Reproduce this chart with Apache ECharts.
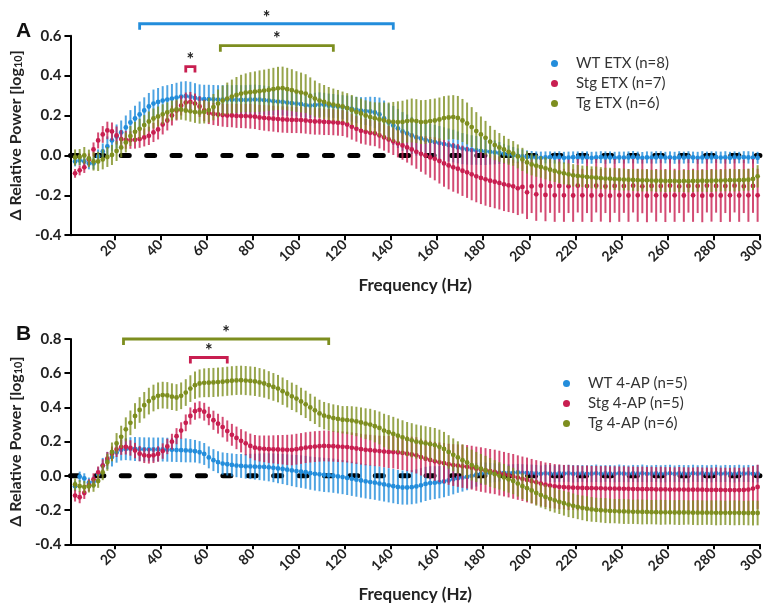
<!DOCTYPE html>
<html>
<head>
<meta charset="utf-8">
<script src="https://cdn.jsdelivr.net/npm/echarts@6/dist/echarts.min.js"></script>
<style>
html,body{margin:0;padding:0;background:#fff;}
#chart{width:767px;height:610px;}
</style>
</head>
<body>
<div id="chart"></div>
<script>
// Frequency bins (Hz)
const freq = [
  3,5,7,9,11,13,15,17,19,21,
  23,25,27,29,31,33,35,37,39,41,
  43,45,47,49,51,53,55,57,59,61,
  63,65,67,69,71,73,75,77,79,81,
  83,85,87,89,91,93,95,97,99,101,
  103,105,107,109,111,113,115,117,119,121,
  123,125,127,129,131,133,135,137,139,141,
  143,145,147,149,151,153,155,157,159,161,
  163,165,167,169,171,173,175,177,179,181,
  183,185,187,189,191,193,195,197,199,201,
  203,205,207,209,211,213,215,217,219,221,
  223,225,227,229,231,233,235,237,239,241,
  243,245,247,249,251,253,255,257,259,261,
  263,265,267,269,271,273,275,277,279,281,
  283,285,287,289,291,293,295,297,299
];
const xTicks = [20,40,60,80,100,120,140,160,180,200,220,240,260,280,300];

// ---- Panel A: ETX ----
const wtEtxMean = [
  -0.03,-0.025,-0.03,-0.04,-0.04,-0.005,0.02,0.045,0.075,0.095,
  0.115,0.14,0.165,0.185,0.205,0.225,0.245,0.26,0.268,0.275,
  0.28,0.285,0.29,0.295,0.297,0.294,0.288,0.283,0.282,0.282,
  0.281,0.28,0.28,0.28,0.279,0.279,0.278,0.278,0.279,0.28,
  0.279,0.277,0.275,0.272,0.27,0.268,0.265,0.262,0.26,0.257,
  0.252,0.25,0.252,0.255,0.254,0.25,0.248,0.245,0.242,0.238,
  0.233,0.228,0.224,0.222,0.22,0.215,0.205,0.185,0.165,0.15,
  0.135,0.12,0.11,0.1,0.09,0.085,0.078,0.072,0.067,0.062,
  0.057,0.052,0.047,0.04,0.034,0.03,0.027,0.025,0.022,0.02,
  0.018,0.015,0.012,0.008,0.005,0.002,-0.002,-0.005,-0.008,-0.01,
  -0.01,-0.012,-0.01,-0.009,-0.011,-0.01,-0.012,-0.011,-0.009,-0.01,
  -0.011,-0.01,-0.012,-0.01,-0.009,-0.011,-0.01,-0.012,-0.01,-0.011,
  -0.01,-0.009,-0.011,-0.012,-0.01,-0.011,-0.01,-0.009,-0.011,-0.01,
  -0.012,-0.01,-0.011,-0.009,-0.01,-0.012,-0.01,-0.011,-0.01,-0.009,
  -0.011,-0.01,-0.012,-0.01,-0.011,-0.009,-0.01,-0.011,-0.012
];
const wtEtxSem = [
  0.025,0.025,0.03,0.03,0.03,0.035,0.04,0.05,0.055,0.06,
  0.06,0.06,0.062,0.064,0.065,0.066,0.068,0.07,0.07,0.072,
  0.072,0.073,0.074,0.075,0.075,0.075,0.074,0.073,0.072,0.072,
  0.072,0.072,0.072,0.073,0.073,0.074,0.074,0.074,0.075,0.075,
  0.074,0.073,0.072,0.071,0.07,0.068,0.067,0.066,0.065,0.064,
  0.063,0.062,0.062,0.061,0.06,0.06,0.06,0.06,0.06,0.062,
  0.064,0.066,0.068,0.07,0.074,0.078,0.085,0.09,0.095,0.098,
  0.098,0.097,0.095,0.093,0.091,0.09,0.088,0.087,0.086,0.085,
  0.084,0.083,0.082,0.08,0.078,0.076,0.074,0.072,0.07,0.068,
  0.064,0.06,0.055,0.05,0.045,0.04,0.037,0.035,0.033,0.032,
  0.03,0.031,0.03,0.029,0.03,0.031,0.03,0.03,0.029,0.03,
  0.031,0.03,0.03,0.029,0.03,0.031,0.03,0.03,0.029,0.03,
  0.03,0.031,0.03,0.029,0.03,0.03,0.031,0.03,0.029,0.03,
  0.03,0.031,0.03,0.03,0.029,0.03,0.031,0.03,0.03,0.029,
  0.03,0.031,0.03,0.03,0.029,0.03,0.031,0.03,0.03
];
const stgEtxMean = [
  -0.09,-0.075,-0.06,-0.02,0.03,0.075,0.105,0.125,0.12,0.1,
  0.082,0.078,0.077,0.078,0.082,0.09,0.098,0.115,0.13,0.155,
  0.175,0.2,0.225,0.25,0.265,0.268,0.26,0.245,0.225,0.212,
  0.208,0.205,0.202,0.2,0.2,0.198,0.197,0.197,0.196,0.194,
  0.19,0.188,0.186,0.184,0.182,0.18,0.179,0.178,0.178,0.177,
  0.175,0.172,0.17,0.17,0.168,0.167,0.166,0.164,0.162,0.155,
  0.143,0.133,0.123,0.118,0.113,0.11,0.1,0.09,0.08,0.07,
  0.06,0.05,0.04,0.03,0.018,0.008,0,-0.01,-0.017,-0.028,
  -0.04,-0.05,-0.06,-0.067,-0.077,-0.085,-0.095,-0.105,-0.113,-0.12,
  -0.127,-0.132,-0.138,-0.145,-0.15,-0.155,-0.165,-0.158,-0.185,-0.155,
  -0.195,-0.152,-0.198,-0.154,-0.2,-0.153,-0.2,-0.155,-0.201,-0.152,
  -0.2,-0.154,-0.201,-0.152,-0.2,-0.155,-0.202,-0.153,-0.2,-0.154,
  -0.201,-0.152,-0.2,-0.155,-0.202,-0.153,-0.2,-0.154,-0.201,-0.152,
  -0.2,-0.155,-0.201,-0.153,-0.2,-0.154,-0.202,-0.152,-0.2,-0.153,
  -0.201,-0.154,-0.2,-0.152,-0.201,-0.155,-0.2,-0.153,-0.2
];
const stgEtxSem = [
  0.022,0.025,0.028,0.03,0.035,0.04,0.042,0.044,0.045,0.045,
  0.045,0.045,0.044,0.044,0.044,0.045,0.046,0.048,0.05,0.05,
  0.05,0.05,0.05,0.05,0.05,0.05,0.05,0.052,0.054,0.055,
  0.056,0.057,0.058,0.058,0.059,0.06,0.06,0.061,0.062,0.062,
  0.063,0.064,0.065,0.065,0.066,0.066,0.066,0.066,0.066,0.066,
  0.066,0.066,0.066,0.066,0.066,0.065,0.065,0.065,0.065,0.065,
  0.064,0.064,0.064,0.064,0.064,0.064,0.065,0.066,0.067,0.068,
  0.07,0.072,0.076,0.08,0.085,0.09,0.096,0.102,0.108,0.113,
  0.117,0.12,0.122,0.124,0.126,0.128,0.13,0.13,0.131,0.132,
  0.132,0.133,0.133,0.134,0.134,0.134,0.134,0.134,0.134,0.134,
  0.133,0.134,0.132,0.134,0.133,0.135,0.133,0.134,0.132,0.134,
  0.133,0.135,0.133,0.134,0.132,0.134,0.133,0.135,0.133,0.134,
  0.132,0.134,0.133,0.135,0.133,0.134,0.132,0.134,0.133,0.135,
  0.133,0.134,0.132,0.134,0.133,0.135,0.133,0.134,0.132,0.134,
  0.133,0.135,0.133,0.134,0.132,0.134,0.133,0.135,0.133
];
const tgEtxMean = [
  -0.01,-0.008,0,-0.015,-0.03,-0.03,-0.02,-0.008,0.002,0.022,
  0.04,0.065,0.097,0.118,0.133,0.152,0.17,0.185,0.195,0.206,
  0.216,0.225,0.23,0.229,0.225,0.221,0.217,0.215,0.218,0.227,
  0.242,0.26,0.275,0.285,0.295,0.303,0.31,0.314,0.317,0.319,
  0.322,0.325,0.328,0.332,0.336,0.337,0.332,0.327,0.32,0.315,
  0.31,0.297,0.285,0.275,0.268,0.26,0.255,0.25,0.245,0.237,
  0.228,0.218,0.21,0.2,0.192,0.186,0.18,0.175,0.17,0.168,
  0.167,0.168,0.172,0.175,0.172,0.167,0.168,0.172,0.175,0.18,
  0.187,0.19,0.192,0.188,0.175,0.16,0.142,0.122,0.105,0.088,
  0.068,0.052,0.04,0.03,0.018,0.01,-0.005,-0.02,-0.035,-0.045,
  -0.052,-0.058,-0.065,-0.072,-0.078,-0.085,-0.09,-0.095,-0.1,-0.103,
  -0.105,-0.108,-0.11,-0.112,-0.114,-0.116,-0.117,-0.119,-0.12,-0.121,
  -0.122,-0.123,-0.124,-0.125,-0.125,-0.126,-0.127,-0.127,-0.128,-0.128,
  -0.128,-0.129,-0.128,-0.129,-0.128,-0.128,-0.127,-0.128,-0.127,-0.126,
  -0.126,-0.125,-0.124,-0.125,-0.124,-0.123,-0.122,-0.118,-0.105
];
const tgEtxSem = [
  0.04,0.04,0.042,0.044,0.046,0.048,0.05,0.05,0.05,0.05,
  0.05,0.05,0.05,0.05,0.05,0.05,0.05,0.05,0.05,0.05,
  0.05,0.05,0.05,0.05,0.05,0.052,0.054,0.056,0.058,0.062,
  0.066,0.07,0.075,0.08,0.085,0.09,0.094,0.097,0.1,0.102,
  0.104,0.105,0.106,0.107,0.108,0.108,0.107,0.105,0.102,0.1,
  0.097,0.094,0.09,0.087,0.085,0.083,0.08,0.078,0.075,0.075,
  0.075,0.075,0.075,0.076,0.078,0.08,0.085,0.09,0.095,0.1,
  0.104,0.106,0.108,0.11,0.11,0.11,0.11,0.11,0.11,0.11,
  0.11,0.11,0.11,0.11,0.108,0.105,0.1,0.095,0.09,0.085,
  0.08,0.076,0.072,0.068,0.065,0.062,0.06,0.058,0.056,0.055,
  0.055,0.054,0.055,0.056,0.055,0.054,0.055,0.055,0.056,0.055,
  0.054,0.055,0.055,0.056,0.055,0.054,0.055,0.055,0.056,0.055,
  0.054,0.055,0.055,0.056,0.055,0.054,0.055,0.055,0.056,0.055,
  0.054,0.055,0.055,0.056,0.055,0.054,0.055,0.055,0.056,0.055,
  0.054,0.055,0.055,0.056,0.055,0.054,0.055,0.055,0.056
];

// ---- Panel B: 4-AP ----
const wtApMean = [
  -0.06,-0.005,-0.015,-0.04,-0.035,0.01,0.06,0.09,0.11,0.137,
  0.152,0.157,0.158,0.157,0.156,0.155,0.155,0.154,0.154,0.154,
  0.153,0.152,0.151,0.15,0.149,0.147,0.144,0.138,0.128,0.108,
  0.092,0.08,0.072,0.068,0.064,0.06,0.058,0.056,0.055,0.054,
  0.053,0.052,0.05,0.047,0.043,0.04,0.036,0.032,0.028,0.025,
  0.021,0.016,0.012,0.009,0.006,0.004,0.001,-0.003,-0.007,-0.012,
  -0.017,-0.022,-0.027,-0.032,-0.036,-0.04,-0.045,-0.05,-0.055,-0.06,
  -0.065,-0.068,-0.068,-0.066,-0.062,-0.055,-0.047,-0.042,-0.04,-0.037,
  -0.033,-0.027,-0.02,-0.014,-0.01,-0.006,0,0.007,0.013,0.016,
  0.018,0.018,0.019,0.018,0.017,0.018,0.02,0.018,0.017,0.016,
  0.014,0.012,0.015,0.013,0.012,0.014,0.013,0.015,0.012,0.013,
  0.014,0.012,0.013,0.015,0.012,0.014,0.013,0.012,0.015,0.013,
  0.012,0.014,0.013,0.015,0.012,0.013,0.014,0.012,0.013,0.015,
  0.012,0.014,0.013,0.012,0.015,0.013,0.014,0.012,0.013,0.015,
  0.012,0.014,0.013,0.012,0.015,0.013,0.014,0.012,0.013
];
const wtApSem = [
  0.03,0.03,0.03,0.03,0.035,0.04,0.045,0.05,0.055,0.06,
  0.062,0.065,0.068,0.07,0.07,0.07,0.07,0.07,0.07,0.07,
  0.07,0.07,0.07,0.07,0.07,0.068,0.066,0.065,0.064,0.064,
  0.064,0.064,0.065,0.066,0.067,0.068,0.07,0.072,0.074,0.076,
  0.078,0.08,0.082,0.084,0.086,0.088,0.09,0.092,0.094,0.095,
  0.096,0.097,0.098,0.099,0.1,0.1,0.1,0.1,0.1,0.1,
  0.1,0.1,0.1,0.1,0.1,0.1,0.1,0.1,0.1,0.1,
  0.1,0.1,0.1,0.1,0.1,0.1,0.1,0.098,0.096,0.094,
  0.092,0.09,0.088,0.085,0.082,0.078,0.074,0.07,0.066,0.062,
  0.058,0.055,0.052,0.05,0.05,0.05,0.05,0.05,0.05,0.05,
  0.05,0.049,0.05,0.051,0.05,0.049,0.05,0.05,0.051,0.05,
  0.049,0.05,0.05,0.051,0.05,0.049,0.05,0.05,0.051,0.05,
  0.049,0.05,0.05,0.051,0.05,0.049,0.05,0.05,0.051,0.05,
  0.049,0.05,0.05,0.051,0.05,0.049,0.05,0.05,0.051,0.05,
  0.049,0.05,0.05,0.051,0.05,0.049,0.05,0.05,0.051
];
const stgApMean = [
  -0.115,-0.125,-0.1,-0.055,-0.02,0.02,0.06,0.1,0.13,0.155,
  0.168,0.17,0.163,0.148,0.13,0.12,0.117,0.12,0.128,0.145,
  0.172,0.2,0.232,0.265,0.31,0.35,0.378,0.386,0.375,0.35,
  0.325,0.305,0.285,0.262,0.24,0.222,0.205,0.19,0.175,0.165,
  0.16,0.158,0.156,0.155,0.154,0.153,0.152,0.152,0.156,0.16,
  0.165,0.168,0.171,0.173,0.175,0.174,0.173,0.171,0.17,0.168,
  0.164,0.16,0.156,0.152,0.15,0.147,0.145,0.142,0.14,0.139,
  0.137,0.134,0.13,0.125,0.12,0.11,0.1,0.093,0.085,0.079,
  0.074,0.068,0.063,0.06,0.056,0.053,0.048,0.042,0.037,0.032,
  0.027,0.023,0.016,0.01,0.004,-0.003,-0.01,-0.017,-0.024,-0.031,
  -0.038,-0.045,-0.052,-0.057,-0.061,-0.064,-0.066,-0.068,-0.069,-0.07,
  -0.071,-0.072,-0.072,-0.073,-0.073,-0.074,-0.074,-0.075,-0.075,-0.076,
  -0.076,-0.077,-0.077,-0.078,-0.078,-0.078,-0.079,-0.079,-0.079,-0.08,
  -0.08,-0.08,-0.08,-0.081,-0.081,-0.081,-0.081,-0.082,-0.082,-0.082,
  -0.082,-0.083,-0.083,-0.083,-0.083,-0.082,-0.08,-0.074,-0.065
];
const stgApSem = [
  0.035,0.035,0.035,0.035,0.035,0.035,0.037,0.04,0.042,0.045,
  0.045,0.045,0.045,0.045,0.045,0.045,0.045,0.045,0.045,0.045,
  0.045,0.046,0.047,0.048,0.049,0.05,0.05,0.05,0.052,0.054,
  0.056,0.058,0.06,0.062,0.064,0.066,0.068,0.07,0.072,0.074,
  0.076,0.078,0.08,0.082,0.084,0.086,0.088,0.09,0.09,0.09,
  0.09,0.09,0.09,0.09,0.09,0.09,0.09,0.09,0.09,0.09,
  0.09,0.09,0.09,0.09,0.09,0.09,0.09,0.092,0.094,0.096,
  0.098,0.1,0.102,0.104,0.106,0.108,0.11,0.112,0.114,0.116,
  0.118,0.12,0.122,0.124,0.126,0.127,0.128,0.129,0.13,0.13,
  0.13,0.13,0.131,0.13,0.13,0.131,0.13,0.13,0.131,0.13,
  0.13,0.131,0.13,0.132,0.13,0.131,0.13,0.132,0.13,0.131,
  0.13,0.132,0.13,0.131,0.13,0.132,0.13,0.131,0.13,0.132,
  0.13,0.131,0.13,0.132,0.13,0.131,0.13,0.132,0.13,0.131,
  0.13,0.132,0.13,0.131,0.13,0.132,0.13,0.131,0.13,0.132,
  0.13,0.131,0.13,0.132,0.13,0.131,0.13,0.132,0.13
];
const tgApMean = [
  -0.05,-0.06,-0.065,-0.062,-0.055,-0.03,0.02,0.08,0.14,0.19,
  0.228,0.272,0.31,0.35,0.385,0.413,0.437,0.455,0.468,0.472,
  0.47,0.463,0.458,0.468,0.487,0.51,0.53,0.54,0.544,0.545,
  0.546,0.548,0.55,0.553,0.556,0.558,0.559,0.557,0.555,0.552,
  0.546,0.54,0.53,0.52,0.51,0.495,0.48,0.465,0.452,0.435,
  0.418,0.4,0.383,0.365,0.352,0.345,0.338,0.333,0.328,0.326,
  0.323,0.318,0.312,0.305,0.3,0.29,0.28,0.265,0.255,0.245,
  0.235,0.225,0.215,0.208,0.2,0.195,0.19,0.185,0.18,0.17,
  0.157,0.14,0.123,0.108,0.092,0.078,0.063,0.052,0.042,0.032,
  0.02,0.01,0,-0.01,-0.02,-0.03,-0.045,-0.06,-0.072,-0.085,
  -0.1,-0.112,-0.123,-0.134,-0.143,-0.152,-0.16,-0.168,-0.175,-0.182,
  -0.187,-0.192,-0.196,-0.199,-0.201,-0.203,-0.205,-0.206,-0.207,-0.208,
  -0.209,-0.21,-0.21,-0.211,-0.211,-0.212,-0.212,-0.213,-0.213,-0.213,
  -0.214,-0.214,-0.214,-0.214,-0.215,-0.215,-0.215,-0.215,-0.215,-0.216,
  -0.216,-0.216,-0.216,-0.216,-0.216,-0.217,-0.217,-0.217,-0.217
];
const tgApSem = [
  0.035,0.035,0.035,0.035,0.038,0.04,0.045,0.05,0.055,0.06,
  0.065,0.07,0.072,0.075,0.075,0.077,0.078,0.078,0.078,0.078,
  0.078,0.078,0.078,0.078,0.078,0.078,0.08,0.082,0.084,0.085,
  0.085,0.085,0.085,0.085,0.085,0.085,0.085,0.085,0.085,0.085,
  0.084,0.083,0.082,0.081,0.08,0.08,0.08,0.08,0.08,0.08,
  0.08,0.08,0.08,0.08,0.08,0.08,0.08,0.08,0.08,0.082,
  0.084,0.086,0.088,0.09,0.092,0.094,0.096,0.098,0.1,0.1,
  0.1,0.1,0.1,0.1,0.1,0.1,0.1,0.1,0.1,0.1,
  0.1,0.098,0.096,0.094,0.092,0.09,0.09,0.088,0.086,0.085,
  0.084,0.082,0.08,0.08,0.078,0.077,0.076,0.075,0.075,0.075,
  0.074,0.073,0.072,0.073,0.072,0.071,0.072,0.073,0.072,0.071,
  0.072,0.073,0.072,0.071,0.072,0.073,0.072,0.071,0.072,0.073,
  0.072,0.071,0.072,0.073,0.072,0.071,0.072,0.073,0.072,0.071,
  0.072,0.073,0.072,0.071,0.072,0.073,0.072,0.071,0.072,0.073,
  0.072,0.071,0.072,0.073,0.072,0.071,0.072,0.073,0.072
];

// Significance spans [startHz, endHz]
const sigA = [[31, 141], [66, 115], [51, 55]];
const sigB = [[24, 113], [53, 69]];

const namesA = ['WT ETX (n=8)', 'Stg ETX (n=7)', 'Tg ETX (n=6)'];
const namesB = ['WT 4-AP (n=5)', 'Stg 4-AP (n=5)', 'Tg 4-AP (n=6)'];

// ---- styling ----
const C_WT = '#238ddb';
const C_STG = '#c81e50';
const C_TG = '#7d8e1f';
const FONT = 'Lato';
const INK = '#222';

// bracket heights (value units) and colours for each panel
const sigStyleA = [{level: 0.66, color: C_WT}, {level: 0.55, color: C_TG}, {level: 0.445, color: C_STG}];
const sigStyleB = [{level: 0.8, color: C_TG}, {level: 0.692, color: C_STG}];

function rows(mean, sem) {
  return freq.map((f, i) => [f, mean[i], sem[i]]);
}

function renderErr(params, api) {
  const x = api.value(0), m = api.value(1), e = api.value(2);
  const t = api.coord([x, m + e]);
  const b = api.coord([x, m - e]);
  const c = api.coord([x, m]);
  const color = api.visual('color');
  return {
    type: 'group',
    children: [
      {type: 'line', shape: {x1: t[0], y1: t[1], x2: b[0], y2: b[1]},
       style: {stroke: color, lineWidth: 2, opacity: 0.8}},
      {type: 'circle', shape: {cx: c[0], cy: c[1], r: 2.4}, style: {fill: color}}
    ]
  };
}

function makeRenderSig(styles) {
  return function (params, api) {
    const s = styles[params.dataIndex];
    const p1 = api.coord([api.value(0), s.level]);
    const p2 = api.coord([api.value(1), s.level]);
    const leg = 6;
    return {
      type: 'group',
      children: [
        {type: 'polyline',
         shape: {points: [[p1[0], p1[1] + leg], [p1[0], p1[1]], [p2[0], p2[1]], [p2[0], p2[1] + leg]]},
         style: {stroke: s.color, lineWidth: 2.8, fill: null}},
        {type: 'text',
         style: {text: '*', x: (p1[0] + p2[0]) / 2, y: p1[1] - 6, align: 'center', verticalAlign: 'middle',
                 font: 'bold 18px ' + FONT, fill: INK}}
      ]
    };
  };
}

function xAxisFor(gridIndex) {
  return {
    type: 'value', gridIndex: gridIndex, min: 1, max: 300,
    name: 'Frequency (Hz)', nameLocation: 'middle', nameGap: 42,
    nameTextStyle: {fontFamily: FONT, fontWeight: 'bold', fontSize: 17, color: INK},
    axisLine: {onZero: false, lineStyle: {color: '#000', width: 2}},
    axisTick: {show: true, length: 5, lineStyle: {color: '#000', width: 2}, customValues: xTicks},
    axisLabel: {rotate: 45, margin: 7, fontFamily: FONT, fontWeight: 'bold', fontSize: 14, color: INK,
                customValues: xTicks},
    splitLine: {show: false}
  };
}

function yAxisFor(gridIndex, max) {
  return {
    type: 'value', gridIndex: gridIndex, min: -0.4, max: max, interval: 0.2,
    name: 'Δ Relative Power [log{sub|10}]', nameLocation: 'middle', nameGap: 35, nameRotate: 90,
    nameTextStyle: {fontFamily: FONT, fontWeight: 'bold', fontSize: 16, color: INK,
      rich: {sub: {fontFamily: FONT, fontWeight: 'bold', fontSize: 11, color: INK, verticalAlign: 'bottom', lineHeight: 10}}},
    axisLine: {show: true, lineStyle: {color: '#000', width: 2}},
    axisTick: {show: true, length: 6, lineStyle: {color: '#000', width: 2}},
    axisLabel: {margin: 9, fontFamily: FONT, fontWeight: 'bold', fontSize: 15, color: INK,
                formatter: v => v.toFixed(1)},
    splitLine: {show: false}
  };
}

function zeroLine(idx) {
  return {
    type: 'line', xAxisIndex: idx, yAxisIndex: idx, data: [[1, 0], [300, 0]],
    symbol: 'none', silent: true, z: 1,
    lineStyle: {color: '#000', width: 5, type: [8, 17.4], cap: 'round'}
  };
}

function errSeries(name, color, data, idx) {
  return {
    type: 'custom', name: name, xAxisIndex: idx, yAxisIndex: idx,
    renderItem: renderErr, data: data, z: 2,
    itemStyle: {color: color},
    encode: {x: 0, y: 1}
  };
}

function sigSeries(data, styles, idx) {
  return {
    type: 'custom', xAxisIndex: idx, yAxisIndex: idx, silent: true, clip: false,
    renderItem: makeRenderSig(styles), data: data, z: 3,
    encode: {x: [0, 1]}
  };
}

function legendFor(names, left, top) {
  return {
    data: names, orient: 'vertical', left: left, top: top, icon: 'circle',
    itemWidth: 7, itemHeight: 7, itemGap: 4, selectedMode: false,
    textStyle: {fontFamily: FONT, fontSize: 15, color: '#333', lineHeight: 16, padding: [0, 0, 0, 13]}
  };
}

const chart = echarts.init(document.getElementById('chart'), null, {renderer: 'canvas'});
chart.setOption({
  animation: false,
  backgroundColor: '#fff',
  grid: [
    {left: 68, top: 35.7, width: 697, height: 199.5},
    {left: 68, top: 339, width: 697, height: 205.3}
  ],
  xAxis: [xAxisFor(0), xAxisFor(1)],
  yAxis: [yAxisFor(0, 0.6), yAxisFor(1, 0.8)],
  legend: [legendFor(namesA, 546, 50.5), legendFor(namesB, 558, 370.5)],
  graphic: [
    {type: 'text', left: 16, top: 21, style: {text: 'A', font: 'bold 21px "Liberation Sans"', fill: '#111'}},
    {type: 'text', left: 16, top: 324, style: {text: 'B', font: 'bold 21px "Liberation Sans"', fill: '#111'}}
  ],
  series: [
    zeroLine(0),
    errSeries(namesA[0], C_WT, rows(wtEtxMean, wtEtxSem), 0),
    errSeries(namesA[1], C_STG, rows(stgEtxMean, stgEtxSem), 0),
    errSeries(namesA[2], C_TG, rows(tgEtxMean, tgEtxSem), 0),
    sigSeries(sigA, sigStyleA, 0),
    zeroLine(1),
    errSeries(namesB[0], C_WT, rows(wtApMean, wtApSem), 1),
    errSeries(namesB[1], C_STG, rows(stgApMean, stgApSem), 1),
    errSeries(namesB[2], C_TG, rows(tgApMean, tgApSem), 1),
    sigSeries(sigB, sigStyleB, 1)
  ]
});
</script>
</body>
</html>
